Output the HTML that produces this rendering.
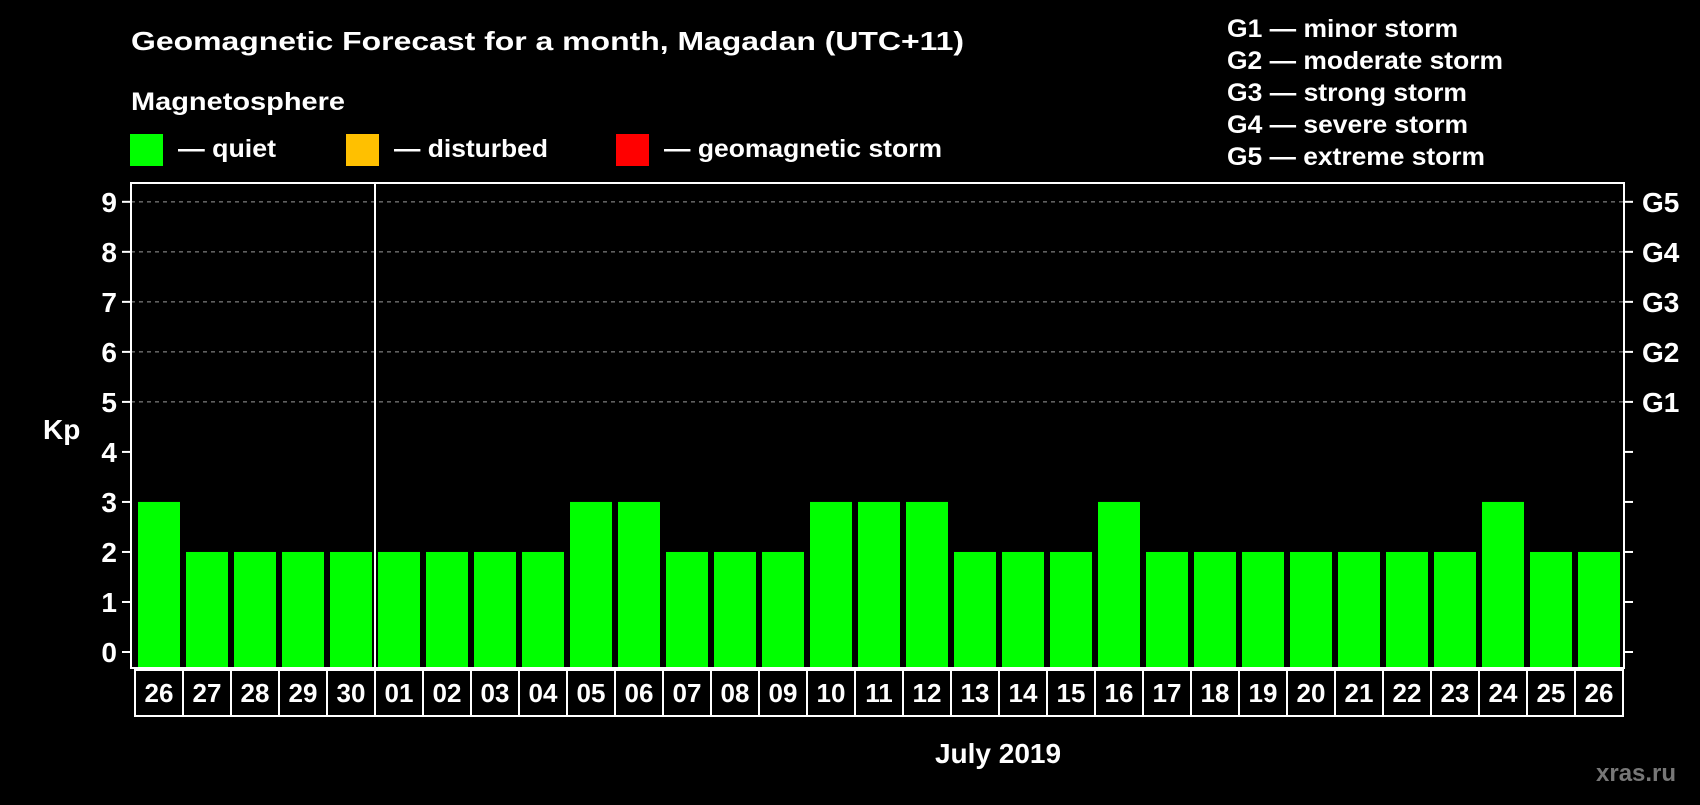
<!DOCTYPE html>
<html><head><meta charset="utf-8"><style>
body{margin:0;background:#000;width:1700px;height:800px;overflow:hidden;font-family:"Liberation Sans",sans-serif;font-weight:bold;color:#fff}
svg text{font-family:"Liberation Sans",sans-serif;font-weight:bold}
</style></head><body>
<svg id="chart" width="1700" height="800" xmlns="http://www.w3.org/2000/svg">
<text x="131" y="50" fill="#fff" font-size="26" textLength="833" lengthAdjust="spacingAndGlyphs">Geomagnetic Forecast for a month, Magadan (UTC+11)</text>
<text x="131" y="110" fill="#fff" font-size="25" textLength="214" lengthAdjust="spacingAndGlyphs">Magnetosphere</text>
<rect x="130" y="134" width="33" height="32" fill="#00ff00"/>
<text x="178" y="157" fill="#fff" font-size="25" textLength="98" lengthAdjust="spacingAndGlyphs">— quiet</text>
<rect x="346" y="134" width="33" height="32" fill="#ffc000"/>
<text x="394" y="157" fill="#fff" font-size="25" textLength="154" lengthAdjust="spacingAndGlyphs">— disturbed</text>
<rect x="616" y="134" width="33" height="32" fill="#ff0000"/>
<text x="664" y="157" fill="#fff" font-size="25" textLength="278" lengthAdjust="spacingAndGlyphs">— geomagnetic storm</text>
<g font-size="25" fill="#fff">
<text x="1227" y="37" textLength="231" lengthAdjust="spacingAndGlyphs">G1 — minor storm</text>
<text x="1227" y="69" textLength="276" lengthAdjust="spacingAndGlyphs">G2 — moderate storm</text>
<text x="1227" y="101" textLength="240" lengthAdjust="spacingAndGlyphs">G3 — strong storm</text>
<text x="1227" y="133" textLength="241" lengthAdjust="spacingAndGlyphs">G4 — severe storm</text>
<text x="1227" y="165" textLength="258" lengthAdjust="spacingAndGlyphs">G5 — extreme storm</text>
</g>
<text x="43" y="439" fill="#fff" font-size="28">Kp</text>
<text x="998" y="763" fill="#fff" font-size="28" text-anchor="middle">July 2019</text>
<text x="1596" y="781" fill="#777" font-size="24">xras.ru</text>
<g id="grid"></g><g id="bars"></g><g id="axes"></g>
</svg>
<script>
const days=["26","27","28","29","30","01","02","03","04","05","06","07","08","09","10","11","12","13","14","15","16","17","18","19","20","21","22","23","24","25","26"];
const kp=[3,2,2,2,2,2,2,2,2,3,3,2,2,2,3,3,3,2,2,2,3,2,2,2,2,2,2,2,3,2,2];
const yTicks=[0,1,2,3,4,5,6,7,8,9];
const gLabels=["G1","G2","G3","G4","G5"];
const gLevels=[5,6,7,8,9];
const NS="http://www.w3.org/2000/svg";
const L=131,R=1624,T=183,B=668;
const y=v=>652-v*50.02;
const x=i=>138+i*48;
function mk(tag,at,parent){const e=document.createElementNS(NS,tag);for(const k in at)e.setAttribute(k,at[k]);parent.appendChild(e);return e;}
const grid=document.getElementById('grid'),bars=document.getElementById('bars'),axes=document.getElementById('axes');
gLevels.forEach((g,i)=>{
 const ln=mk('line',{x1:L,x2:R,y1:y(g),y2:y(g),stroke:'#999','stroke-dasharray':'4 4','stroke-width':1},grid);
 
 
 const t=mk('text',{x:1642,y:y(g)+10,fill:'#fff','font-size':28},axes);t.textContent=gLabels[i];
 
 
});
kp.forEach((v,i)=>{
 const c=v>=5?'#ff0000':(v>=4?'#ffc000':'#00ff00');
 const r=mk('rect',{x:x(i),y:y(v),width:42,height:B-y(v),fill:c},bars);
 
 
 const bx=mk('rect',{x:135+i*48,y:670,width:48,height:46,fill:'none',stroke:'#fff','stroke-width':2},axes);
 
 
 const t=mk('text',{x:x(i)+21,y:702,fill:'#fff','font-size':26,'text-anchor':'middle'},axes);t.textContent=days[i];
 
 
});
yTicks.forEach(v=>{
 const a=mk('line',{x1:122,x2:L,y1:y(v),y2:y(v),stroke:'#fff','stroke-width':2},axes);
 
 
 const b=mk('line',{x1:R,x2:R+9,y1:y(v),y2:y(v),stroke:'#fff','stroke-width':2},axes);
 
 
 const t=mk('text',{x:117,y:y(v)+10,fill:'#fff','font-size':28,'text-anchor':'end'},axes);t.textContent=v;
 
 
});
const f=mk('rect',{x:L,y:T,width:R-L,height:B-T,fill:'none',stroke:'#fff','stroke-width':2},axes);


const sep=mk('line',{x1:375,x2:375,y1:T,y2:B,stroke:'#fff','stroke-width':2},axes);


</script>
</body></html>
